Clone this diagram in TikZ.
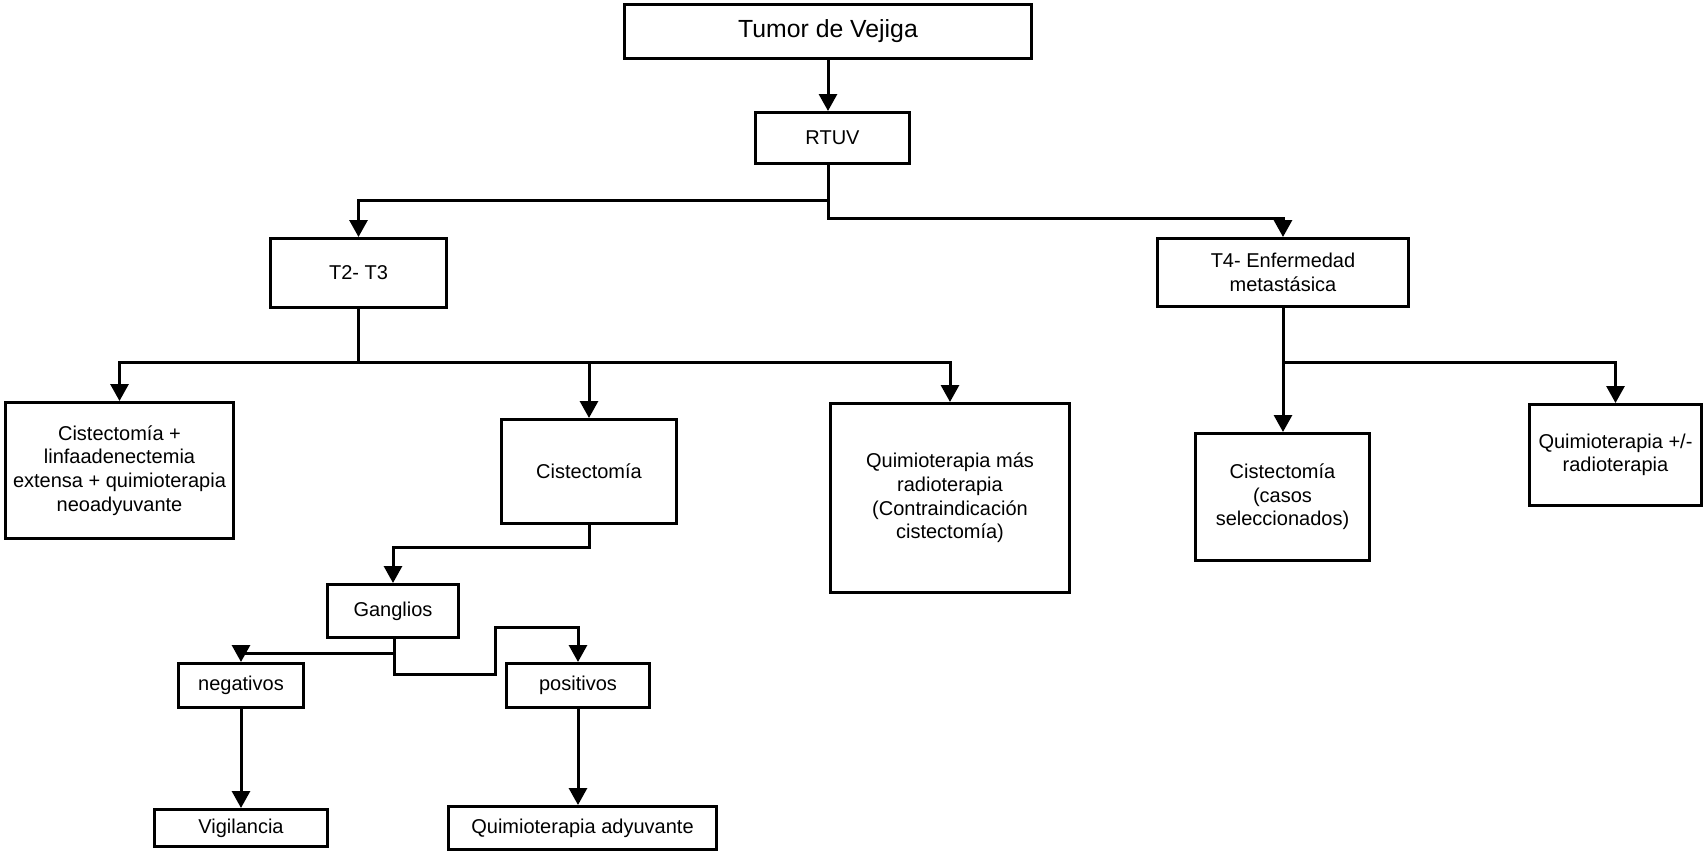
\documentclass[tikz,border=0pt]{standalone}
\usepackage{fontspec}
\setmainfont{Liberation Sans}
\usetikzlibrary{arrows.meta}
\begin{document}
\begin{tikzpicture}[x=0.5pt,y=-0.5pt,
  box/.style={draw, line width=1.5pt, align=center, inner sep=0pt, font=\fontsize{10}{11.8}\selectfont},
  arr/.style={line width=1.5pt, -{Triangle[width=9pt,length=8.5pt]}},
  ln/.style={line width=1.5pt}]
\fill[white] (0,0) rectangle (1705,852);
\useasboundingbox (0,0) rectangle (1705,852);

\node[box, minimum width=203.5pt, minimum height=27pt, font=\fontsize{12.4}{14}\selectfont] (tumor) at (828,31.5) {Tumor de Vejiga};
\node[box, minimum width=77pt, minimum height=25.5pt] (rtuv) at (832.5,138) {RTUV};
\node[box, minimum width=88pt, minimum height=34.5pt] (t23) at (358.5,273) {T2- T3};
\node[box, minimum width=125.5pt, minimum height=34pt] (t4) at (1283,272.5) {T4- Enfermedad\\metastásica};
\node[box, minimum width=114pt, minimum height=68pt] (b1) at (119.5,470.5) {Cistectomía +\\linfaadenectemia\\extensa + quimioterapia\\neoadyuvante};
\node[box, minimum width=87.5pt, minimum height=52pt] (cist) at (589,471.5) {Cistectomía};
\node[box, minimum width=119.5pt, minimum height=94.5pt] (qmr) at (950,498) {Quimioterapia más\\radioterapia\\(Contraindicación\\cistectomía)};
\node[box, minimum width=87pt, minimum height=63.5pt] (cc) at (1282.5,497) {Cistectomía\\(casos\\seleccionados)};
\node[box, minimum width=86pt, minimum height=50.5pt] (qrad) at (1615.5,455) {Quimioterapia +/-\\radioterapia};
\node[box, minimum width=65.5pt, minimum height=26.5pt] (gang) at (393,611) {Ganglios};
\node[box, minimum width=62.5pt, minimum height=22pt] (neg) at (241,685.5) {negativos};
\node[box, minimum width=71.5pt, minimum height=22pt] (pos) at (578,685.5) {positivos};
\node[box, minimum width=86.5pt, minimum height=18.5pt] (vig) at (241,828) {Vigilancia};
\node[box, minimum width=134pt, minimum height=21.5pt] (qady) at (582.5,828) {Quimioterapia adyuvante};

% junctions
\coordinate (j1) at (828,200);
\coordinate (j2) at (828,218);
\coordinate (j3) at (358.5,362);
\coordinate (j4) at (1283,362);
\coordinate (j5) at (589,547);
\coordinate (g1) at (394,653);
\coordinate (g2) at (394,674);
\coordinate (g3) at (495,674);
\coordinate (g4) at (495,627);

\draw[arr] (tumor.south) -- (tumor.south |- rtuv.north);
\draw[arr] (rtuv.south -| j1) -- (j1) -| (t23.north);
\draw[arr] (j1) -- (j2) -| (t4.north);

\draw[ln] (t23.south) -- (j3);
\draw[arr] (j3) -| (b1.north);
\draw[arr] (j3) -| (qmr.north);
\draw[arr] (cist.north |- j3) -- (cist.north);

\draw[arr] (t4.south) -- (t4.south |- cc.north);
\draw[arr] (j4) -| (qrad.north);

\draw[arr] (cist.south) -- (j5) -| (gang.north);
\draw[arr] (gang.south -| g1) -- (g1) -| (neg.north);
\draw[arr] (g1) -- (g2) -- (g3) -- (g4) -| (pos.north);

\draw[arr] (neg.south) -- (neg.south |- vig.north);
\draw[arr] (pos.south) -- (pos.south |- qady.north);
\end{tikzpicture}
\end{document}
